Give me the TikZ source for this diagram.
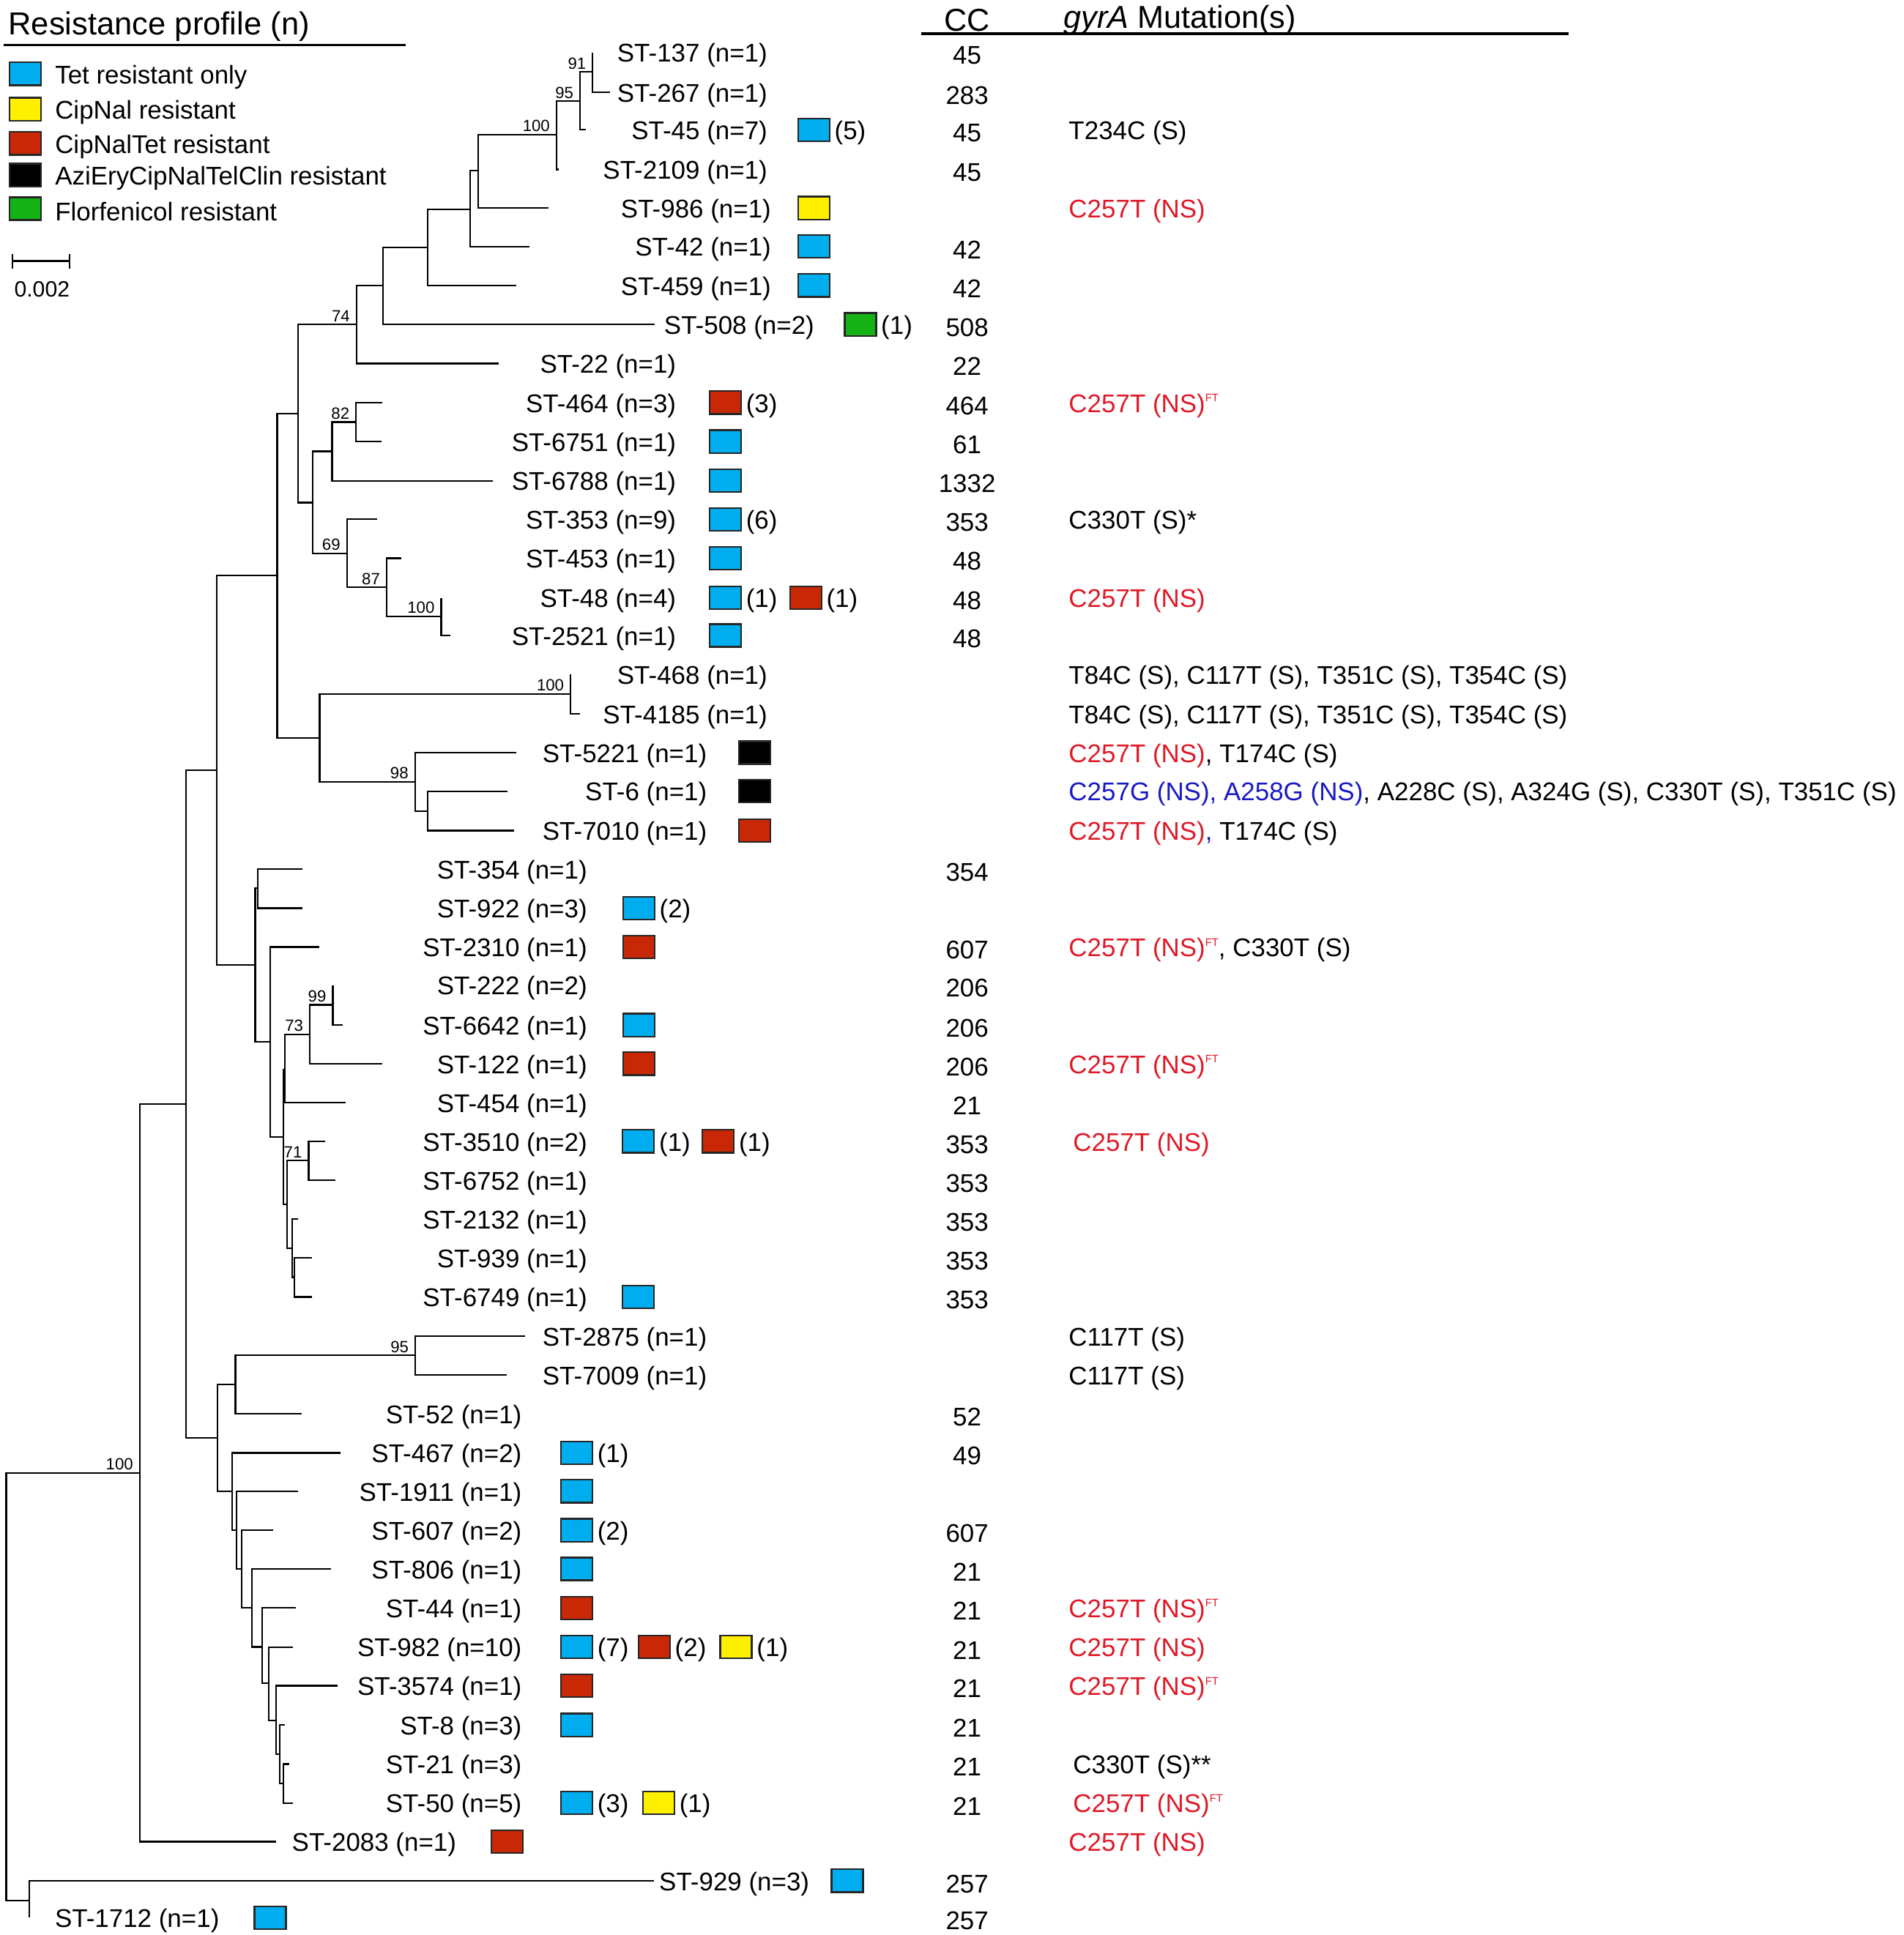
\documentclass[tikz,border=0pt]{standalone}
\usepackage{fontspec}
\setmainfont{Liberation Sans}
\usetikzlibrary{positioning}
\definecolor{tetblue}{RGB}{0,174,239}
\definecolor{cipyellow}{RGB}{255,240,0}
\definecolor{cntred}{RGB}{200,40,5}
\definecolor{florgreen}{RGB}{20,178,20}
\definecolor{mutred}{RGB}{222,26,40}
\definecolor{mutblue}{RGB}{25,25,195}
\newcommand{\ftsup}{\raisebox{0.8ex}{\fontsize{5}{5}\selectfont FT}}

\begin{document}
\begin{tikzpicture}[x=0.02cm,y=-0.02cm,
    branch/.style={line width=0.75pt},
    txt/.style={inner sep=0pt,yshift=-0.05cm,font=\fontsize{11.8}{14}\selectfont},
    tiplab/.style={txt,anchor=east},
    mut/.style={txt,anchor=west},
    boot/.style={anchor=south east,inner sep=0pt,xshift=-0.1cm,yshift=0.04cm,font=\fontsize{7.5}{9}\selectfont},
    rbox/.style={draw=black!85,line width=0.8pt,minimum width=0.51cm,minimum height=0.37cm,inner sep=0pt},
    cnt/.style={inner sep=0pt,yshift=-0.05cm,font=\fontsize{11.8}{14}\selectfont,right=0.06cm of #1}]
    \useasboundingbox (0,0) rectangle (1542,1568);

    % legend
    \node[inner sep=0pt,anchor=west,font=\fontsize{14.7}{17}\selectfont] (ltitle) at (6.5,21.5) {Resistance profile (n)};
    \draw[line width=1.1pt] (2.7,36.6) -- (328.7,36.6);
    \foreach \c/\y/\txt in {tetblue/59.8/Tet resistant only, cipyellow/88.5/CipNal resistant,
        cntred/116.2/CipNalTet resistant, black/141.9/AziEryCipNalTelClin resistant,
        florgreen/169.1/Florfenicol resistant} {
        \node[rbox,fill=\c] (key\c) at (20.6,\y) {};
        \node[txt,anchor=west] (keytxt\c) at (44.3,\y) {\txt};
    }
    \draw[line width=0.7pt] (10.2,211.5) -- (56.3,211.5);
    \draw[line width=0.7pt] (10.2,205.6) -- (10.2,217.5);
    \draw[line width=0.7pt] (56.3,205.6) -- (56.3,217.5);
    \node[inner sep=0pt,font=\fontsize{10.2}{12}\selectfont] (scl) at (34,234.3) {0.002};

    % column heads
    \node[inner sep=0pt,font=\fontsize{14.6}{17}\selectfont] (cchead) at (783.5,16.5) {CC};
    \node[inner sep=0pt,anchor=west,font=\fontsize{14.6}{17}\selectfont] (muthead) at (861.4,16.5) {\textit{gyrA} Mutation(s)};
    \draw[line width=1.1pt] (746.5,27.3) -- (1271,27.3);

    % internal nodes
    \coordinate (root) at (5,1366);
    \coordinate (n23) at (23.6,1540);
    \coordinate (n113) at (113.2,1193.5);
    \coordinate (n150) at (150.6,894.5);
    \coordinate (n176) at (175.8,624);
    \coordinate (n224) at (224.5,466.4);
    \coordinate (n241) at (241.6,335);
    \coordinate (n289) at (288.8,263);
    \coordinate (n310) at (310.5,231.5);
    \coordinate (n346) at (346.3,200.5);
    \coordinate (n381) at (381,169.6);
    \coordinate (n387) at (387.5,138.4);
    \coordinate (n451) at (450.8,109.1);
    \coordinate (n470) at (469.9,82);
    \coordinate (n480) at (480.1,58.3);
    \coordinate (n253) at (253.5,407.3);
    \coordinate (n269) at (269,365.7);
    \coordinate (n288) at (288.4,342);
    \coordinate (n281) at (281,448.6);
    \coordinate (n313) at (313.2,476);
    \coordinate (n357) at (357.4,499.5);
    \coordinate (n259) at (258.9,598);
    \coordinate (n462) at (462.2,562.4);
    \coordinate (n336) at (336.2,633.6);
    \coordinate (n346b) at (346.5,657.3);
    \coordinate (n207) at (206.7,782);
    \coordinate (n209) at (208.7,719.6);
    \coordinate (n219) at (219,844);
    \coordinate (n229) at (229.5,921.5);
    \coordinate (n230) at (230.8,866.7);
    \coordinate (n251) at (251,838.2);
    \coordinate (n270) at (269.6,814.3);
    \coordinate (n233) at (232.6,976);
    \coordinate (n250) at (250,940.5);
    \coordinate (n237) at (236.6,1011.6);
    \coordinate (n239) at (238.7,1035);
    \coordinate (n176b) at (176,1165);
    \coordinate (n191) at (190.7,1122);
    \coordinate (n336c) at (336.4,1098.3);
    \coordinate (n188) at (188,1208.4);
    \coordinate (n192) at (191.7,1240);
    \coordinate (n196) at (195.8,1271.3);
    \coordinate (n204) at (204.3,1303);
    \coordinate (n213) at (212.6,1334.5);
    \coordinate (n218) at (217.9,1364);
    \coordinate (n224b) at (223.8,1394);
    \coordinate (n228) at (226.5,1421.5);
    \coordinate (n230b) at (229.5,1445);

    % tips
    \coordinate (t137) at (480.1,42.5);
    \coordinate (t267) at (494.4,74.7);
    \coordinate (t45) at (474.6,105.2);
    \coordinate (t2109) at (452.5,137.4);
    \coordinate (t986) at (444.3,168.6);
    \coordinate (t42) at (428.7,199.7);
    \coordinate (t459) at (418.5,231.3);
    \coordinate (t508) at (530.1,262.9);
    \coordinate (t22) at (404.2,294.6);
    \coordinate (t464) at (309.8,326.2);
    \coordinate (t6751) at (309,357.8);
    \coordinate (t6788) at (399,389.6);
    \coordinate (t353) at (305.5,420.8);
    \coordinate (t453) at (325.1,452.3);
    \coordinate (t48) at (357.4,484.4);
    \coordinate (t2521) at (365,515);
    \coordinate (t468) at (462.2,546.6);
    \coordinate (t4185) at (469.7,578.6);
    \coordinate (t5221) at (418,609.9);
    \coordinate (t6) at (411.1,641.1);
    \coordinate (t7010) at (416.2,673.1);
    \coordinate (t354) at (245,704.4);
    \coordinate (t922) at (245,736);
    \coordinate (t2310) at (258.5,767.4);
    \coordinate (t222) at (269.6,798.3);
    \coordinate (t6642) at (277.5,830.7);
    \coordinate (t122) at (309.7,861.9);
    \coordinate (t454) at (280,893.6);
    \coordinate (t3510) at (263.7,924.8);
    \coordinate (t6752) at (271.7,956.3);
    \coordinate (t2132) at (241.5,988);
    \coordinate (t939) at (252.7,1019.2);
    \coordinate (t6749) at (253,1051);
    \coordinate (t2875) at (425.6,1082.8);
    \coordinate (t7009) at (410.3,1114);
    \coordinate (t52) at (244.5,1145.7);
    \coordinate (t467) at (275.8,1177.3);
    \coordinate (t1911) at (241.7,1208.4);
    \coordinate (t607) at (221.3,1240);
    \coordinate (t806) at (268,1271.3);
    \coordinate (t44) at (239.4,1303);
    \coordinate (t982) at (237.5,1334.6);
    \coordinate (t3574) at (273.4,1366);
    \coordinate (t8) at (231,1397.8);
    \coordinate (t21) at (234.6,1429.5);
    \coordinate (t50) at (237.5,1461);
    \coordinate (t2083) at (223.8,1492.3);
    \coordinate (t929) at (530,1524);
    \coordinate (t1712) at (23.6,1554);

    % branches
    \foreach \p/\c in {root/n113, root/n23, n23/t929, n23/t1712, n113/n150, n113/t2083,
        n150/n176, n150/n176b, n176/n224, n176/n207, n224/n241, n224/n259,
        n241/n289, n241/n253, n289/n310, n289/t22, n310/n346, n310/t508,
        n346/n381, n346/t459, n381/n387, n381/t42, n387/n451, n387/t986,
        n451/n470, n451/t2109, n470/n480, n470/t45, n480/t137, n480/t267,
        n253/n269, n253/n281, n269/n288, n269/t6788, n288/t464, n288/t6751,
        n281/t353, n281/n313, n313/t453, n313/n357, n357/t48, n357/t2521,
        n259/n462, n259/n336, n462/t468, n462/t4185, n336/t5221, n336/n346b,
        n346b/t6, n346b/t7010, n207/n209, n207/n219, n209/t354, n209/t922,
        n219/t2310, n219/n229, n229/n230, n229/n233, n230/n251, n230/t454,
        n251/n270, n251/t122, n270/t222, n270/t6642, n233/n250, n233/n237,
        n250/t3510, n250/t6752, n237/t2132, n237/n239, n239/t939, n239/t6749,
        n176b/n191, n176b/n188, n191/n336c, n191/t52, n336c/t2875, n336c/t7009,
        n188/t467, n188/n192, n192/t1911, n192/n196, n196/t607, n196/n204,
        n204/t806, n204/n213, n213/t44, n213/n218, n218/t982, n218/n224b,
        n224b/t3574, n224b/n228, n228/t8, n228/n230b, n230b/t21, n230b/t50}
        \draw[branch] (\p) |- (\c);

    % bootstrap values
    \foreach \b/\v in {n480/91, n470/95, n451/100, n289/74, n288/82, n281/69, n313/87,
        n357/100, n462/100, n336/98, n270/99, n251/73, n250/71, n336c/95, n113/100}
        \node[boot] (bs\b) at (\b) {\v};

    % tip labels
    \coordinate (colA) at (622,0);
    \coordinate (colB) at (625,0);
    \coordinate (colC) at (660,0);
    \coordinate (colD) at (548,0);
    \coordinate (colE) at (573,0);
    \coordinate (colF) at (476,0);
    \coordinate (colG) at (423,0);
    \coordinate (colH) at (370,0);
    \coordinate (colI) at (656,0);
    \coordinate (colJ) at (178,0);
    \foreach \col/\list in {colA/{137/1,267/1,45/7,2109/1,468/1,4185/1},
        colB/{986/1,42/1,459/1}, colC/{508/2},
        colD/{22/1,464/3,6751/1,6788/1,353/9,453/1,48/4,2521/1},
        colE/{5221/1,6/1,7010/1,2875/1,7009/1},
        colF/{354/1,922/3,2310/1,222/2,6642/1,122/1,454/1,3510/2,6752/1,2132/1,939/1,6749/1},
        colG/{52/1,467/2,1911/1,607/2,806/1,44/1,982/10,3574/1,8/3,21/3,50/5},
        colH/{2083/1}, colI/{929/3}, colJ/{1712/1}}
        \foreach \st/\cnt in \list
            \node[tiplab] (l\st) at (\col |- t\st) {ST-\st\ (n=\cnt)};

    % resistance boxes
    \node[rbox,fill=tetblue] (b45) at (659.3,105.2) {};
    \node[cnt=b45] (k45) {(5)};
    \node[rbox,fill=cipyellow] (b986) at (659.3,168.6) {};
    \node[rbox,fill=tetblue] (b42) at (659.3,199.7) {};
    \node[rbox,fill=tetblue] (b459) at (659.3,231.3) {};
    \node[rbox,fill=florgreen] (b508) at (697,262.9) {};
    \node[cnt=b508] (k508) {(1)};
    \node[rbox,fill=cntred] (b464) at (587.6,326.2) {};
    \node[cnt=b464] (k464) {(3)};
    \node[rbox,fill=tetblue] (b6751) at (587.6,357.8) {};
    \node[rbox,fill=tetblue] (b6788) at (587.6,389.6) {};
    \node[rbox,fill=tetblue] (b353) at (587.6,420.8) {};
    \node[cnt=b353] (k353) {(6)};
    \node[rbox,fill=tetblue] (b453) at (587.6,452.3) {};
    \node[rbox,fill=tetblue] (b48a) at (587.6,484.4) {};
    \node[cnt=b48a] (k48a) {(1)};
    \node[rbox,fill=cntred] (b48b) at (652.7,484.4) {};
    \node[cnt=b48b] (k48b) {(1)};
    \node[rbox,fill=tetblue] (b2521) at (587.6,515) {};
    \node[rbox,fill=black] (b5221) at (611.2,609.9) {};
    \node[rbox,fill=black] (b6) at (611.2,641.1) {};
    \node[rbox,fill=cntred] (b7010) at (611.2,673.1) {};
    \node[rbox,fill=tetblue] (b922) at (517.5,736) {};
    \node[cnt=b922] (k922) {(2)};
    \node[rbox,fill=cntred] (b2310) at (517.5,767.4) {};
    \node[rbox,fill=tetblue] (b6642) at (517.5,830.7) {};
    \node[rbox,fill=cntred] (b122) at (517.5,861.9) {};
    \node[rbox,fill=tetblue] (b3510a) at (517.2,924.8) {};
    \node[cnt=b3510a] (k3510a) {(1)};
    \node[rbox,fill=cntred] (b3510b) at (581.8,924.8) {};
    \node[cnt=b3510b] (k3510b) {(1)};
    \node[rbox,fill=tetblue] (b6749) at (517.2,1051) {};
    \node[rbox,fill=tetblue] (b467) at (467.2,1177.3) {};
    \node[cnt=b467] (k467) {(1)};
    \node[rbox,fill=tetblue] (b1911) at (467.2,1208.4) {};
    \node[rbox,fill=tetblue] (b607) at (467.2,1240) {};
    \node[cnt=b607] (k607) {(2)};
    \node[rbox,fill=tetblue] (b806) at (467.2,1271.3) {};
    \node[rbox,fill=cntred] (b44) at (467.2,1303) {};
    \node[rbox,fill=tetblue] (b982a) at (467.2,1334.6) {};
    \node[cnt=b982a] (k982a) {(7)};
    \node[rbox,fill=cntred] (b982b) at (530,1334.6) {};
    \node[cnt=b982b] (k982b) {(2)};
    \node[rbox,fill=cipyellow] (b982c) at (596.3,1334.6) {};
    \node[cnt=b982c] (k982c) {(1)};
    \node[rbox,fill=cntred] (b3574) at (467.2,1366) {};
    \node[rbox,fill=tetblue] (b8) at (467.2,1397.8) {};
    \node[rbox,fill=tetblue] (b50a) at (467.2,1461) {};
    \node[cnt=b50a] (k50a) {(3)};
    \node[rbox,fill=cipyellow] (b50b) at (533.6,1461) {};
    \node[cnt=b50b] (k50b) {(1)};
    \node[rbox,fill=cntred] (b2083) at (411,1492.3) {};
    \node[rbox,fill=tetblue] (b929) at (686.3,1524) {};
    \node[rbox,fill=tetblue] (b1712) at (219,1554) {};

    % clonal complexes
    \coordinate (cccol) at (783.5,0);
    \foreach \st/\cc in {137/45, 267/283, 45/45, 2109/45, 42/42, 459/42, 508/508, 22/22,
        464/464, 6751/61, 6788/1332, 353/353, 453/48, 48/48, 2521/48, 354/354, 2310/607,
        222/206, 6642/206, 122/206, 454/21, 3510/353, 6752/353, 2132/353, 939/353, 6749/353,
        52/52, 467/49, 607/607, 806/21, 44/21, 982/21, 3574/21, 8/21, 21/21, 50/21,
        929/257, 1712/257}
        \node[txt] (cc\st) at (cccol |- t\st) {\cc};

    % gyrA mutations
    \coordinate (mutcol) at (865.5,0);
    \coordinate (mutcolb) at (869,0);
    \node[mut] (m45) at (mutcol |- t45) {T234C (S)};
    \node[mut] (m986) at (mutcol |- t986) {\textcolor{mutred}{C257T (NS)}};
    \node[mut] (m464) at (mutcol |- t464) {\textcolor{mutred}{C257T (NS)\ftsup}};
    \node[mut] (m353) at (mutcol |- t353) {C330T (S)*};
    \node[mut] (m48) at (mutcol |- t48) {\textcolor{mutred}{C257T (NS)}};
    \node[mut] (m468) at (mutcol |- t468) {T84C (S), C117T (S), T351C (S), T354C (S)};
    \node[mut] (m4185) at (mutcol |- t4185) {T84C (S), C117T (S), T351C (S), T354C (S)};
    \node[mut] (m5221) at (mutcol |- t5221) {\textcolor{mutred}{C257T (NS)}, T174C (S)};
    \node[mut] (m6) at (mutcol |- t6) {\textcolor{mutblue}{C257G (NS), A258G (NS)}, A228C (S), A324G (S), C330T (S), T351C (S)};
    \node[mut] (m7010) at (mutcol |- t7010) {\textcolor{mutred}{C257T (NS)}\textcolor{mutblue}{,} T174C (S)};
    \node[mut] (m2310) at (mutcol |- t2310) {\textcolor{mutred}{C257T (NS)\ftsup}, C330T (S)};
    \node[mut] (m122) at (mutcol |- t122) {\textcolor{mutred}{C257T (NS)\ftsup}};
    \node[mut] (m3510) at (mutcolb |- t3510) {\textcolor{mutred}{C257T (NS)}};
    \node[mut] (m2875) at (mutcol |- t2875) {C117T (S)};
    \node[mut] (m7009) at (mutcol |- t7009) {C117T (S)};
    \node[mut] (m44) at (mutcol |- t44) {\textcolor{mutred}{C257T (NS)\ftsup}};
    \node[mut] (m982) at (mutcol |- t982) {\textcolor{mutred}{C257T (NS)}};
    \node[mut] (m3574) at (mutcol |- t3574) {\textcolor{mutred}{C257T (NS)\ftsup}};
    \node[mut] (m21) at (mutcolb |- t21) {C330T (S)**};
    \node[mut] (m50) at (mutcolb |- t50) {\textcolor{mutred}{C257T (NS)\ftsup}};
    \node[mut] (m2083) at (mutcol |- t2083) {\textcolor{mutred}{C257T (NS)}};
\end{tikzpicture}
\end{document}
